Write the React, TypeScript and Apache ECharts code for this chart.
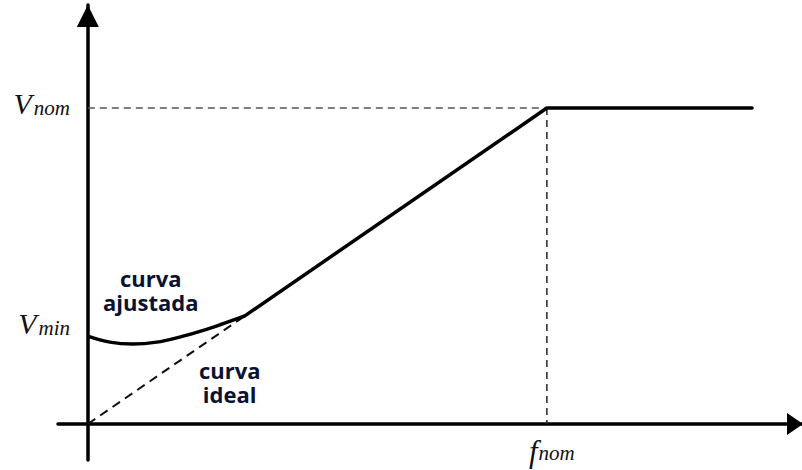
import React, { useEffect, useRef } from "react";
import * as echarts from "echarts";

// Normalised axes: f / f_nom on x, V / V_nom on y
const F_NOM = 1;
const V_NOM = 1;
const V_MIN = 0.278;
const F_END = 1.447;

// adjusted (boosted) curve at low frequency, read point by point
const adjustedCurve: [number, number][] = [
  [0, 0.278],
  [0.048, 0.259],
  [0.098, 0.253],
  [0.15, 0.259],
  [0.2, 0.275],
  [0.244, 0.293],
  [0.288, 0.314],
  [0.342, 0.342],
];

// linear V/f region followed by constant voltage
const linearPart: [number, number][] = [
  [0.342, 0.342],
  [F_NOM, V_NOM],
  [F_END, V_NOM],
];

// ideal curve (through the origin) where it departs from the adjusted one
const idealPart: [number, number][] = [
  [0, 0],
  [0.342, 0.342],
];

const nomHorizontal: [number, number][] = [
  [0, V_NOM],
  [F_NOM, V_NOM],
];
const nomVertical: [number, number][] = [
  [F_NOM, V_NOM],
  [F_NOM, 0],
];

const notes: [number, number, string][] = [
  [0.137, 0.424, "curva\najustada"],
  [0.309, 0.133, "curva\nideal"],
];

const MATH_FONT = "Liberation Serif";
const NOTE_FONT = "Open Sans";

// the value axes cross at zero, but their labels are laid out from the
// grid edges, so the label margins are measured from those edges
const GRID_LEFT = 58;
const GRID_TOP = 5;
const GRID_W = 745;
const GRID_H = 455;

export default function App() {
  const ref = useRef<HTMLDivElement>(null);

  useEffect(() => {
    if (!ref.current) return;
    const chart = echarts.init(ref.current, undefined, { renderer: "svg" });

    const base = { fontFamily: MATH_FONT, fontStyle: "italic", color: "#111" };
    const mathRich = {
      V: { ...base, fontSize: 30, padding: [0, 2, 9, 0] },
      Vm: { ...base, fontSize: 30, padding: [0, 2, 25, 0] },
      s: { ...base, fontSize: 21 },
      sm: { ...base, fontSize: 21, padding: [0, 0, 16, 0] },
      f: { ...base, fontSize: 31, padding: [0, 1, 3, 10] },
    };

    chart.setOption({
      animation: false,
      backgroundColor: "#ffffff",
      grid: {
        left: GRID_LEFT,
        top: GRID_TOP,
        width: GRID_W,
        height: GRID_H,
        containLabel: false,
        outerBoundsMode: "none",
      },
      xAxis: {
        type: "value",
        min: -0.065,
        max: 1.558,
        axisLine: {
          onZero: true,
          lineStyle: { color: "#000", width: 3.5 },
          symbol: ["none", "triangle"],
          symbolSize: [22, 16],
          symbolOffset: [0, -8],
        },
        axisTick: { show: false },
        splitLine: { show: false },
        axisLabel: {
          customValues: [F_NOM],
          margin: -24,
          formatter: () => "{f|f}{s|nom}",
          rich: mathRich,
        },
      },
      yAxis: {
        type: "value",
        min: -0.114,
        max: 1.326,
        axisLine: {
          onZero: true,
          lineStyle: { color: "#000", width: 3.5 },
          symbol: ["none", "triangle"],
          symbolSize: [22, 22],
          symbolOffset: [0, -11],
        },
        axisTick: { show: false },
        splitLine: { show: false },
        axisLabel: {
          customValues: [V_MIN, V_NOM],
          margin: -12,
          formatter: (v: number) => (v === V_NOM ? "{V|V}{s|nom}" : "{Vm|V}{sm|min}"),
          rich: mathRich,
        },
      },
      series: [
        {
          name: "nominal voltage",
          type: "line",
          data: nomHorizontal,
          symbol: "none",
          lineStyle: { color: "#555", width: 1.5, type: [7, 5] },
        },
        {
          name: "nominal frequency",
          type: "line",
          data: nomVertical,
          symbol: "none",
          lineStyle: { color: "#222", width: 1.5, type: [7, 5] },
        },
        {
          name: "curva ideal",
          type: "line",
          data: idealPart,
          symbol: "none",
          lineStyle: { color: "#111", width: 2, type: [9, 6] },
        },
        {
          name: "curva ajustada",
          type: "line",
          data: adjustedCurve,
          smooth: 0.4,
          symbol: "none",
          lineStyle: { color: "#000", width: 3.5 },
        },
        {
          name: "V/f",
          type: "line",
          data: linearPart,
          symbol: "none",
          lineStyle: { color: "#000", width: 3.5, cap: "round", join: "round" },
        },
        {
          name: "notes",
          type: "scatter",
          data: notes,
          symbolSize: 0,
          silent: true,
          itemStyle: { opacity: 1 },
          label: {
            show: true,
            position: "inside",
            formatter: (p: any) => p.value[2],
            fontFamily: NOTE_FONT,
            fontWeight: "bold",
            fontSize: 22,
            lineHeight: 24,
            color: "#0b1230",
            textBorderWidth: 0,
            align: "center",
          },
        },
      ],
    });

    return () => chart.dispose();
  }, []);

  return (
    <div
      ref={ref}
      style={{ position: "fixed", left: 0, top: 0, width: 802, height: 470, background: "#fff" }}
    />
  );
}
